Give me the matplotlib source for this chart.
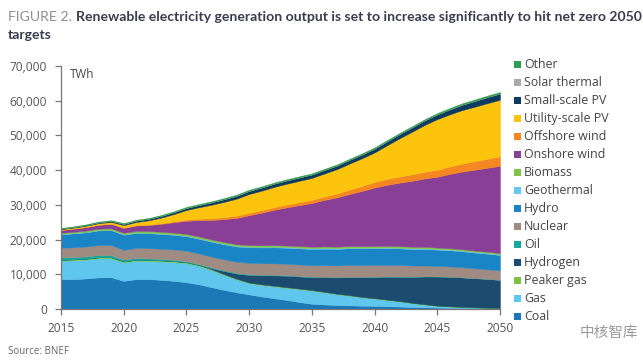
import numpy as np
import matplotlib
matplotlib.use("Agg")
import matplotlib.pyplot as plt
from matplotlib.patches import Rectangle
from matplotlib.ticker import FuncFormatter

# ---------------- data (thousand TWh) ----------------
years = list(range(2015, 2051))

coal = [8.65, 8.6, 8.8, 9.1, 9.15, 8.1, 8.6, 8.6, 8.4, 8.1,
        7.7, 7.1, 6.3, 5.5, 4.8, 4.2, 3.6, 3.1, 2.6, 2.0,
        1.5, 1.3, 1.15, 1.05, 0.95, 0.9, 0.8, 0.7, 0.6, 0.5,
        0.4, 0.32, 0.25, 0.18, 0.13, 0.1]
gas = [5.25, 5.4, 5.4, 5.5, 5.45, 5.3, 5.3, 5.2, 5.3, 5.4,
       5.5, 5.3, 4.9, 4.3, 3.7, 3.2, 3.3, 3.4, 3.5, 3.7,
       3.8, 3.5, 3.1, 2.8, 2.4, 2.1, 1.8, 1.5, 1.1, 0.8,
       0.5, 0.4, 0.3, 0.25, 0.2, 0.15]
peaker_gas = [0.3, 0.3, 0.3, 0.3, 0.3, 0.3, 0.3, 0.3, 0.3, 0.3,
              0.28, 0.26, 0.24, 0.22, 0.2, 0.2, 0.19, 0.18, 0.17, 0.16,
              0.15, 0.14, 0.13, 0.12, 0.11, 0.1, 0.09, 0.08, 0.07, 0.06,
              0.05, 0.05, 0.04, 0.04, 0.03, 0.03]
hydrogen = [0, 0, 0, 0, 0, 0, 0, 0, 0, 0,
            0, 0, 0.3, 0.9, 1.5, 2.2, 2.6, 3.0, 3.3, 3.5,
            3.7, 4.2, 4.7, 5.2, 5.7, 6.1, 6.6, 7.0, 7.5, 8.0,
            8.4, 8.5, 8.5, 8.4, 8.3, 8.1]
oil = [0.7, 0.68, 0.65, 0.63, 0.6, 0.55, 0.52, 0.48, 0.42, 0.36,
       0.3, 0.27, 0.25, 0.23, 0.21, 0.2, 0.19, 0.18, 0.17, 0.16,
       0.15, 0.14, 0.13, 0.12, 0.11, 0.1, 0.09, 0.08, 0.07, 0.06,
       0.05, 0.05, 0.04, 0.04, 0.03, 0.03]
nuclear = [2.75, 2.8, 2.85, 2.9, 2.9, 2.8, 2.9, 2.95, 2.95, 3.0,
           3.0, 3.05, 3.1, 3.15, 3.2, 3.3, 3.3, 3.3, 3.3, 3.3,
           3.3, 3.35, 3.35, 3.4, 3.4, 3.4, 3.35, 3.3, 3.2, 3.1,
           3.0, 2.95, 2.9, 2.8, 2.75, 2.7]
hydro = [3.85, 4.0, 4.1, 4.2, 4.3, 4.35, 4.3, 4.3, 4.25, 4.2,
         4.2, 4.25, 4.3, 4.35, 4.4, 4.5, 4.55, 4.6, 4.6, 4.65,
         4.7, 4.75, 4.75, 4.8, 4.8, 4.8, 4.8, 4.8, 4.75, 4.75,
         4.7, 4.65, 4.6, 4.55, 4.5, 4.45]
geothermal = [0.1, 0.1, 0.1, 0.1, 0.1, 0.11, 0.11, 0.12, 0.12, 0.13,
              0.14, 0.15, 0.15, 0.16, 0.16, 0.17, 0.17, 0.18, 0.18, 0.19,
              0.2, 0.2, 0.2, 0.2, 0.2, 0.2, 0.2, 0.2, 0.2, 0.2,
              0.2, 0.2, 0.2, 0.2, 0.2, 0.2]
biomass = [0.35, 0.37, 0.4, 0.42, 0.45, 0.45, 0.47, 0.5, 0.5, 0.5,
           0.5, 0.5, 0.49, 0.48, 0.47, 0.46, 0.45, 0.45, 0.45, 0.45,
           0.45, 0.45, 0.45, 0.45, 0.45, 0.45, 0.45, 0.45, 0.45, 0.45,
           0.4, 0.39, 0.38, 0.37, 0.36, 0.35]
onshore_wind = [0.8, 0.9, 1.0, 1.1, 1.25, 1.4, 1.55, 1.75, 2.3, 3.0,
                3.8, 4.7, 5.6, 6.6, 7.6, 8.6, 9.4, 10.2, 11.0, 11.8,
                12.6, 13.4, 14.2, 15.0, 15.9, 16.85, 17.6, 18.3, 19.0, 19.7,
                20.4, 21.4, 22.4, 23.3, 24.2, 25.15]
offshore_wind = [0.05, 0.05, 0.06, 0.07, 0.08, 0.1, 0.12, 0.15, 0.2, 0.27,
                 0.35, 0.42, 0.5, 0.57, 0.64, 0.7, 0.74, 0.78, 0.82, 0.86,
                 0.9, 1.0, 1.12, 1.25, 1.4, 1.6, 1.7, 1.78, 1.85, 1.92,
                 2.0, 2.15, 2.3, 2.45, 2.6, 2.7]
utility_pv = [0.2, 0.25, 0.32, 0.4, 0.5, 0.7, 0.9, 1.2, 1.6, 2.1,
              2.75, 3.3, 3.9, 4.4, 4.9, 5.4, 5.6, 5.8, 6.0, 6.15,
              6.3, 6.6, 7.0, 7.5, 8.0, 8.5, 9.7, 11.0, 12.3, 13.5,
              14.6, 15.0, 15.4, 15.7, 16.0, 16.3]
small_pv = [0.15, 0.18, 0.21, 0.25, 0.3, 0.35, 0.4, 0.45, 0.5, 0.55,
            0.6, 0.65, 0.7, 0.77, 0.84, 0.9, 0.92, 0.94, 0.96, 0.98,
            1.0, 1.02, 1.04, 1.06, 1.08, 1.1, 1.15, 1.2, 1.25, 1.3,
            1.35, 1.45, 1.55, 1.65, 1.75, 1.8]
solar_thermal = [0.01, 0.01, 0.01, 0.01, 0.01, 0.02, 0.02, 0.02, 0.02, 0.02,
                 0.03, 0.03, 0.03, 0.03, 0.03, 0.03, 0.03, 0.03, 0.03, 0.03,
                 0.03, 0.03, 0.03, 0.03, 0.04, 0.04, 0.04, 0.04, 0.04, 0.04,
                 0.04, 0.04, 0.05, 0.05, 0.05, 0.05]
other = [0.16, 0.17, 0.18, 0.19, 0.2, 0.2, 0.2, 0.21, 0.22, 0.23,
         0.25, 0.26, 0.27, 0.28, 0.29, 0.3, 0.3, 0.3, 0.3, 0.3,
         0.3, 0.3, 0.3, 0.3, 0.3, 0.3, 0.3, 0.3, 0.3, 0.3,
         0.35, 0.36, 0.37, 0.38, 0.39, 0.4]

labels = ["Coal", "Gas", "Peaker gas", "Hydrogen", "Oil", "Nuclear", "Hydro",
          "Geothermal", "Biomass", "Onshore wind", "Offshore wind",
          "Utility-scale PV", "Small-scale PV", "Solar thermal", "Other"]
series = [coal, gas, peaker_gas, hydrogen, oil, nuclear, hydro, geothermal,
          biomass, onshore_wind, offshore_wind, utility_pv, small_pv,
          solar_thermal, other]
colors = ["#1d78b6", "#5fc6ee", "#7cc242", "#1c4b70", "#17a79b", "#a08b82",
          "#1984c6", "#66c8f0", "#80c34d", "#8a3f97", "#f4871f", "#fdc40d",
          "#0d3a5e", "#a9a9a9", "#2f9e50"]

yticks = [0, 10000, 20000, 30000, 40000, 50000, 60000, 70000]
xticks = [2015, 2020, 2025, 2030, 2035, 2040, 2045, 2050]

title_head = "FIGURE 2."
title_line1 = "Renewable electricity generation output is set to increase significantly to hit net zero 2050"
title_line2 = "targets"

# ---------------- figure ----------------
W, H = 643, 362
fig = plt.figure(figsize=(W / 100, H / 100), dpi=100)
ax = fig.add_axes([61 / W, 1 - 309 / H, (500 - 61) / W, (309 - 66) / H])

txt_font = ["Open Sans", "DejaVu Sans"]
tick_color = "#555555"

vals = [np.array(s) * 1000 for s in series]
polys = ax.stackplot(years, *vals, colors=colors, linewidth=0)
for p, c in zip(polys, colors):
    p.set_edgecolor(c)
    p.set_linewidth(0.3)

ax.set_xlim(2015, 2050)
ax.set_ylim(0, 70000)
ax.set_yticks(yticks)
ax.set_xticks(xticks)
ax.yaxis.set_major_formatter(FuncFormatter(lambda v, p: f"{int(v):,}"))
for s in ["top", "right"]:
    ax.spines[s].set_visible(False)
for s in ["left", "bottom"]:
    ax.spines[s].set_color("#777777")
    ax.spines[s].set_linewidth(0.9)
ax.tick_params(axis="both", colors="#777777", labelcolor=tick_color,
               length=4, width=0.9, labelsize=8.6)
ax.tick_params(axis="x", pad=5)
ax.tick_params(axis="y", pad=6)
for lab in ax.get_xticklabels() + ax.get_yticklabels():
    lab.set_family(txt_font)

fig.text(70 / W, 1 - 75 / H, "TWh", fontsize=8.4,
         color="#444444", family=txt_font, va="center", ha="left")

# ---------------- title ----------------
title_font = ["Lato", "DejaVu Sans"]
t1 = fig.text(8 / W, 1 - 17 / H, title_head, fontsize=9, color="#8f8f8f",
              family=title_font, va="center", ha="left")
fig.canvas.draw()
r = fig.canvas.get_renderer()
bb = t1.get_window_extent(r)
x2 = bb.x1 + 4
t2 = fig.text(x2 / W, 1 - 17 / H, title_line1, fontsize=9, color="#3b3b4f",
              weight="bold", family=title_font, va="center", ha="left")
w2 = t2.get_window_extent(r).width
fs = 9 * (633 - x2) / w2
t2.set_fontsize(fs)
t1.set_fontsize(fs)
bb = t1.get_window_extent(r)
t2.set_x((bb.x1 + 4) / W)
fig.text(8 / W, 1 - 35 / H, title_line2, fontsize=fs, color="#3b3b4f",
         weight="bold", family=title_font, va="center", ha="left")

# ---------------- legend ----------------
top_y, step = 64.3, (316.7 - 64.3) / 14
for i, (lab, col) in enumerate(zip(labels[::-1], colors[::-1])):
    yc = top_y + i * step
    fig.patches.append(Rectangle((514 / W, 1 - (yc + 3.7) / H), 7.4 / W, 7.4 / H,
                                 transform=fig.transFigure, facecolor=col,
                                 edgecolor="none"))
    fig.text(524 / W, 1 - yc / H, lab, fontsize=8.9, color="#444444",
             family=txt_font, va="center", ha="left")

# ---------------- source / watermark ----------------
fig.text(8 / W, 1 - 352 / H, "Source: BNEF", fontsize=7, color="#666666",
         family=txt_font, va="center", ha="left")
fig.text(638 / W, 1 - 333 / H, "中核智库", fontsize=10.5, color="#9a9a9a",
         family=["Noto Sans CJK SC", "DejaVu Sans"], va="center", ha="right")

fig.savefig("out.png", dpi=100)
